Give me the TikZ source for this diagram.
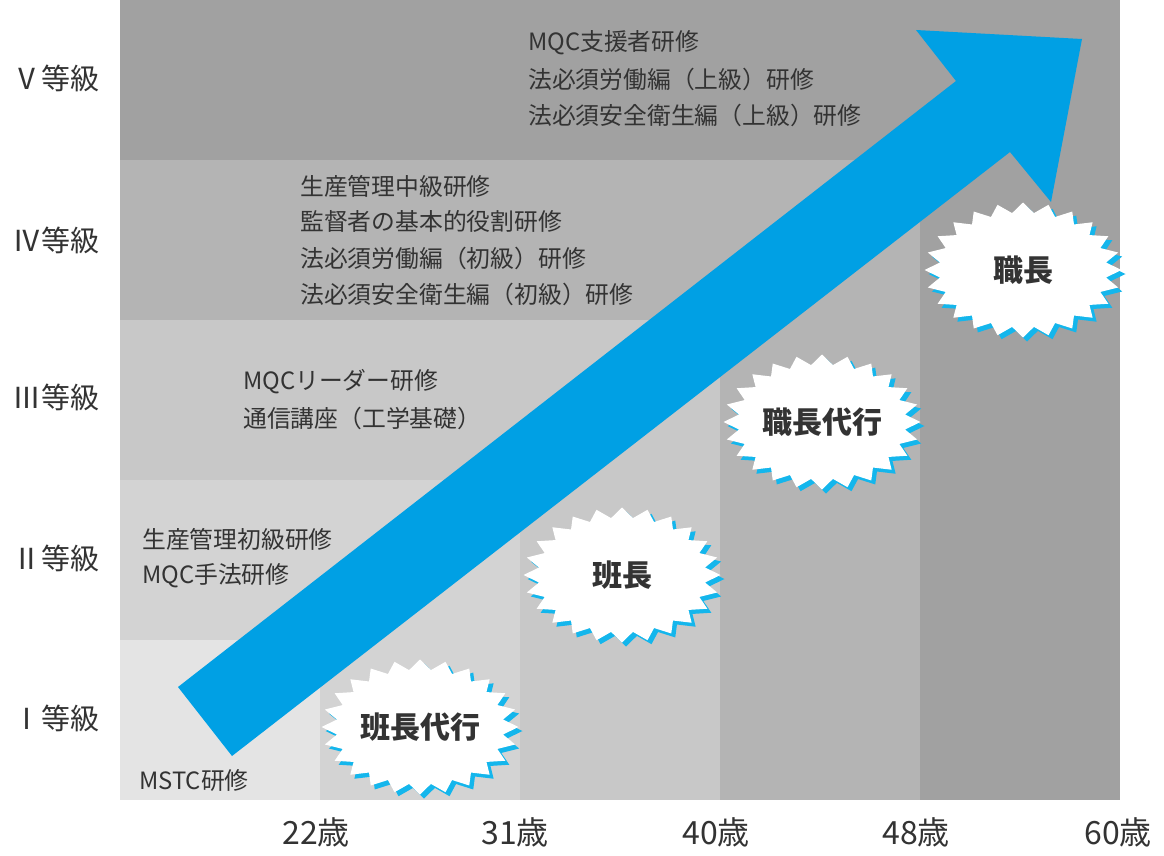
\documentclass[tikz,border=0pt]{standalone}
\usepackage{fontspec}
\setmainfont{Noto Sans CJK JP}
\definecolor{txt}{HTML}{333333}
\definecolor{cA}{HTML}{E4E4E4}
\definecolor{cB}{HTML}{D3D3D3}
\definecolor{cC}{HTML}{C8C8C8}
\definecolor{cD}{HTML}{B4B4B4}
\definecolor{cE}{HTML}{A1A1A1}
\definecolor{arrowblue}{HTML}{00A0E4}
\definecolor{shblue}{HTML}{14B6EC}
% seal shape: centre x, centre y, node name, text
\newcommand\sealnode[4]{%
  \begin{scope}[shift={(#1,#2)}]
    \fill[sealshadow] (0:98.5 and 67.5)
      \foreach \k [evaluate=\k as \f using {isodd(\k)?0.85:1}] in {1,...,47}{ -- ({\k*7.5}:{\f*98.5} and {\f*67.5}) } -- cycle;
    \fill[sealbody] (0:98.5 and 67.5)
      \foreach \k [evaluate=\k as \f using {isodd(\k)?0.85:1}] in {1,...,47}{ -- ({\k*7.5}:{\f*98.5} and {\f*67.5}) } -- cycle;
  \end{scope}
  \node[sealtext] (#3) at (#1,#2) {#4};
}
\begin{document}
\begin{tikzpicture}[x=1pt,y=-1pt,
  item/.style={anchor=west, inner sep=0pt, text=txt, font=\fontsize{23.8}{28}\selectfont},
  grade/.style={anchor=east, inner sep=0pt, text=txt, font=\fontsize{29}{34}\selectfont},
  age/.style={anchor=center, inner sep=0pt, text=txt, font=\fontsize{32}{36}\selectfont},
  sealshadow/.style={fill=shblue, shift={(4,4)}},
  sealbody/.style={fill=white},
  sealtext/.style={inner sep=0pt, text=txt, font=\fontsize{30}{34}\selectfont\bfseries}
]
\useasboundingbox (0,0) rectangle (1164,856);
\fill[white] (0,0) rectangle (1164,856);
% staircase background
\fill[cE] (120,0) rectangle (1120,800);
\fill[cD] (120,160) rectangle (920,800);
\fill[cC] (120,320) rectangle (720,800);
\fill[cB] (120,480) rectangle (520,800);
\fill[cA] (120,640) rectangle (320,800);
% grade labels
\node[grade] (g5) at (100,78) {Ⅴ等級};
\node[grade] (g4) at (100,240) {Ⅳ等級};
\node[grade] (g3) at (100,397) {Ⅲ等級};
\node[grade] (g2) at (100,558) {Ⅱ等級};
\node[grade] (g1) at (100,718) {Ⅰ等級};
% ages
\node[age] (a22) at (316,832) {22歳};
\node[age] (a31) at (515,832) {31歳};
\node[age] (a40) at (716,832) {40歳};
\node[age] (a48) at (916,832) {48歳};
\node[age] (a60) at (1118,832) {60歳};
% courses
\node[item] (v1) at (528,43) {MQC支援者研修};
\node[item] (v2) at (528,79) {法必須労働編（上級）研修};
\node[item] (v3) at (528,115) {法必須安全衛生編（上級）研修};
\node[item] (iv1) at (300,186) {生産管理中級研修};
\node[item] (iv2) at (300,221) {監督者の基本的役割研修};
\node[item] (iv3) at (300,258) {法必須労働編（初級）研修};
\node[item] (iv4) at (300,294) {法必須安全衛生編（初級）研修};
\node[item] (iii1) at (243,382) {MQCリーダー研修};
\node[item] (iii2) at (243,418) {通信講座（工学基礎）};
\node[item] (ii1) at (142,539) {生産管理初級研修};
\node[item] (ii2) at (142,576) {MQC手法研修};
\node[item] (i1) at (139,780) {MSTC研修};
% big arrow
\fill[arrowblue] (178,687) -- (956,81) -- (916,30) -- (1082,39) -- (1051,202) -- (1010,152) -- (232,756) -- cycle;
% positions
\sealnode{420}{727}{b1}{班長代行}
\sealnode{622}{575}{b2}{班長}
\sealnode{822}{422}{b3}{職長代行}
\sealnode{1023}{270}{b4}{職長}
\end{tikzpicture}
\end{document}
